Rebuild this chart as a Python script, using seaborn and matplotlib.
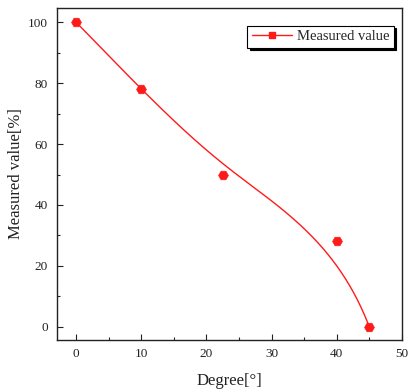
import numpy as np
import pandas as pd
import matplotlib
matplotlib.use("Agg")
import matplotlib.pyplot as plt
from matplotlib.lines import Line2D
import seaborn as sns

degrees = [0, 10, 22.5, 40, 45]
measured = [100, 78, 50, 28, 0]
x_ticks = [0, 10, 20, 30, 40, 50]
y_ticks = [0, 20, 40, 60, 80, 100]
series_name = "Measured value"
x_label = "Degree[°]"
y_label = "Measured value[%]"

sns.set_style("ticks")
plt.rcParams['font.family'] = ['Liberation Serif', 'DejaVu Serif']


def bspline(px, py, n=300):
    # clamped cubic B-spline with data points as control points (Origin "B-Spline" connect)
    P = np.column_stack([px, py]).astype(float)
    k = 3
    m = len(P)
    inner = np.linspace(0, 1, m - k + 1)[1:-1]
    t = np.concatenate([[0] * (k + 1), inner, [1] * (k + 1)])
    us = np.linspace(0, 1, n)
    out = []
    for u in us:
        if u >= 1:
            out.append(P[-1]); continue
        j = np.searchsorted(t, u, side='right') - 1
        d = [P[j - k + i].copy() for i in range(k + 1)]
        for r in range(1, k + 1):
            for i in range(k, r - 1, -1):
                a = (u - t[j - k + i]) / (t[j + 1 + i - r] - t[j - k + i])
                d[i] = (1 - a) * d[i - 1] + a * d[i]
        out.append(d[k])
    out = np.array(out)
    return out[:, 0], out[:, 1]


cx, cy = bspline(degrees, measured)
curve = pd.DataFrame({"x": cx, "y": cy})
pts = pd.DataFrame({"x": degrees, "y": measured})

fig, ax = plt.subplots(figsize=(4.1, 3.9), dpi=100)
fig.subplots_adjust(left=0.14, right=0.98, top=0.98, bottom=0.128)

red = "#ff1a1a"
sns.lineplot(data=curve, x="x", y="y", sort=False, color=red, linewidth=1.0, ax=ax)
sns.scatterplot(data=pts, x="x", y="y", color=red, marker="H", s=50,
                edgecolor=red, linewidth=0.5, ax=ax, zorder=3)

ax.set_xlim(-2.9, 50)
ax.set_ylim(-4.4, 104.8)
ax.set_xticks(x_ticks)
ax.set_yticks(y_ticks)
ax.set_xticks([5, 15, 25, 35, 45], minor=True)
ax.set_yticks([10, 30, 50, 70, 90], minor=True)
ax.tick_params(axis='both', which='major', direction='in', length=4, width=0.8,
               labelsize=9.5, colors='#222222')
ax.tick_params(axis='x', which='major', pad=6)
ax.tick_params(axis='y', which='major', pad=7)
ax.tick_params(axis='both', which='minor', direction='in', length=2.5, width=0.8)
for s in ax.spines.values():
    s.set_visible(True)
    s.set_linewidth(1.0)
    s.set_color('#222222')

ax.set_xlabel(x_label, fontsize=12, labelpad=9, color='#222222')
ax.set_ylabel(y_label, fontsize=12, labelpad=3, color='#222222')

handle = Line2D([], [], color=red, linewidth=1.0, marker='s', markersize=5,
                markerfacecolor=red, markeredgecolor=red)
leg = ax.legend([handle], [series_name], loc='upper right',
                bbox_to_anchor=(0.985, 0.955), fancybox=False,
                shadow={'color': 'black', 'alpha': 1.0},
                frameon=True, fontsize=10.5, handlelength=2.8, borderpad=0.3,
                handletextpad=0.3, borderaxespad=0.2)
leg.get_frame().set_edgecolor('black')
leg.get_frame().set_linewidth(0.8)
leg.get_frame().set_alpha(1.0)

fig.savefig("out.png", dpi=100)
